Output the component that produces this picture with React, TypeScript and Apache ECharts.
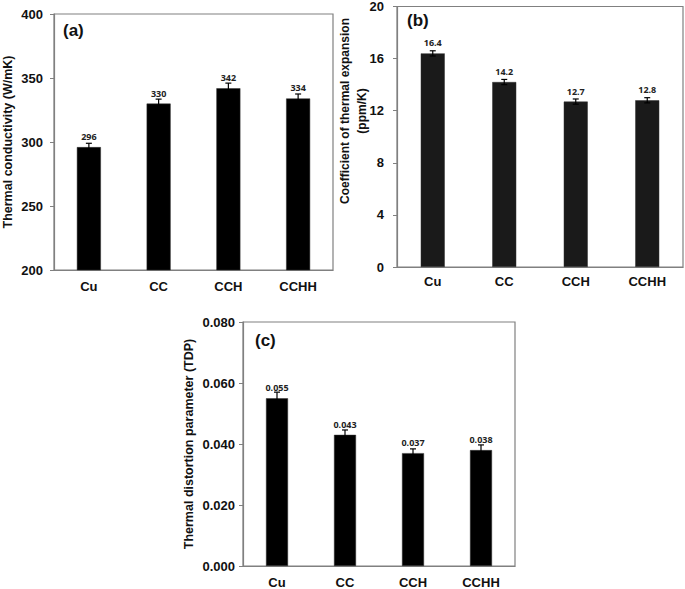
import React, { useEffect, useRef } from "react";
import * as echarts from "echarts";

const categories = ["Cu", "CC", "CCH", "CCHH"];

const conductivity = [296, 330, 342, 334];
const conductivityErr = [3, 3.5, 4, 3.5];

const expansion = [16.4, 14.2, 12.7, 12.8];
const expansionErr = [0.2, 0.2, 0.2, 0.2];

const tdp = [0.055, 0.043, 0.037, 0.038];
const tdpErr = [0.002, 0.0016, 0.0014, 0.0017];

const FONT = "Liberation Sans, Arial, sans-serif";

function errorSeries(idx: number, values: number[], errs: number[]) {
  return {
    type: "custom",
    xAxisIndex: idx,
    yAxisIndex: idx,
    silent: true,
    z: 5,
    data: values.map((v, i) => [i, v, errs[i]]),
    encode: { x: 0, y: 1 },
    renderItem: (params: any, api: any) => {
      const x = api.value(0);
      const v = api.value(1);
      const e = api.value(2);
      const hi = api.coord([x, v + e]);
      const lo = api.coord([x, v - e]);
      const cap = 3;
      const style = { stroke: "#000", lineWidth: 1.2 };
      return {
        type: "group",
        children: [
          { type: "line", shape: { x1: hi[0], y1: hi[1], x2: lo[0], y2: lo[1] }, style },
          { type: "line", shape: { x1: hi[0] - cap, y1: hi[1], x2: hi[0] + cap, y2: hi[1] }, style },
          { type: "line", shape: { x1: lo[0] - cap, y1: lo[1], x2: lo[0] + cap, y2: lo[1] }, style },
        ],
      };
    },
  };
}

function barSeries(idx: number, values: number[], color: string, width: number, digits: number) {
  return {
    type: "bar",
    xAxisIndex: idx,
    yAxisIndex: idx,
    data: values,
    barWidth: width,
    itemStyle: { color, borderColor: "#333", borderWidth: 0.5 },
    label: {
      show: true,
      position: "top",
      distance: 6,
      fontSize: 9,
      fontWeight: "bold",
      fontFamily: "Open Sans, sans-serif",
      color: "#222",
      formatter: (p: any) => Number(p.value).toFixed(digits),
    },
  };
}

function xAxis(idx: number, margin: number) {
  return {
    type: "category",
    gridIndex: idx,
    data: categories,
    axisLine: { show: true, lineStyle: { color: "#808080", width: 1.2 } },
    axisTick: { show: false },
    axisLabel: { fontFamily: FONT, fontWeight: "bold", fontSize: 13, color: "#111", margin },
  };
}

function yAxis(
  idx: number,
  min: number,
  max: number,
  interval: number,
  name: string,
  nameGap: number,
  margin: number,
  digits: number
) {
  return {
    type: "value",
    gridIndex: idx,
    min,
    max,
    interval,
    name,
    nameLocation: "middle",
    nameGap,
    nameTextStyle: { fontFamily: FONT, fontWeight: "bold", fontSize: 12.5, color: "#111" },
    axisLine: { show: true, lineStyle: { color: "#808080", width: 1.2 } },
    axisTick: { show: true, length: 4, lineStyle: { color: "#808080" } },
    splitLine: { show: false },
    axisLabel: {
      fontFamily: FONT,
      fontWeight: "bold",
      fontSize: 13,
      color: "#111",
      margin,
      formatter: (v: number) => v.toFixed(digits),
    },
  };
}

export default function App() {
  const ref = useRef<HTMLDivElement>(null);

  useEffect(() => {
    if (!ref.current) return;
    const chart = echarts.init(ref.current, undefined, { renderer: "svg" });
    chart.setOption({
      animation: false,
      backgroundColor: "#fff",
      grid: [
        { left: 52, top: 14, width: 281, height: 256, show: true, borderColor: "#808080", borderWidth: 1.2 },
        { left: 397, top: 5, width: 286, height: 262, show: true, borderColor: "#808080", borderWidth: 1.2 },
        { left: 243, top: 322, width: 272, height: 246, show: true, borderColor: "#808080", borderWidth: 1.2 },
      ],
      xAxis: [xAxis(0, 10), xAxis(1, 8), xAxis(2, 10)],
      yAxis: [
        yAxis(0, 200, 400, 50, "Thermal conductivity (W/mK)", 40, 11, 0),
        yAxis(1, 0, 20, 4, "", 29, 13, 0),
        yAxis(2, 0, 0.08, 0.02, "Thermal distortion parameter (TDP)", 48, 8, 3),
      ],
      series: [
        barSeries(0, conductivity, "#000", 24, 0),
        errorSeries(0, conductivity, conductivityErr),
        barSeries(1, expansion, "#1a1a1a", 24, 1),
        errorSeries(1, expansion, expansionErr),
        barSeries(2, tdp, "#000", 22, 3),
        errorSeries(2, tdp, tdpErr),
      ],
      graphic: [
        { type: "text", left: 63, top: 22, style: { text: "(a)", fontFamily: FONT, fontWeight: "bold", fontSize: 17, fill: "#111" } },
        { type: "text", left: 407, top: 12, style: { text: "(b)", fontFamily: FONT, fontWeight: "bold", fontSize: 17, fill: "#111" } },
        { type: "text", left: 255, top: 332, style: { text: "(c)", fontFamily: FONT, fontWeight: "bold", fontSize: 17, fill: "#111" } },
        {
          type: "text",
          x: 353,
          y: 111,
          rotation: Math.PI / 2,
          style: {
            text: "Coefficient of thermal expansion\n(ppm/K)",
            fontFamily: FONT,
            fontWeight: "bold",
            fontSize: 12,
            lineHeight: 17,
            fill: "#111",
            align: "center",
            verticalAlign: "middle",
          },
        },
      ],
    });
    return () => chart.dispose();
  }, []);

  return (
    <div
      ref={ref}
      style={{ position: "fixed", left: 0, top: 0, width: 685, height: 589, background: "#fff" }}
    />
  );
}
